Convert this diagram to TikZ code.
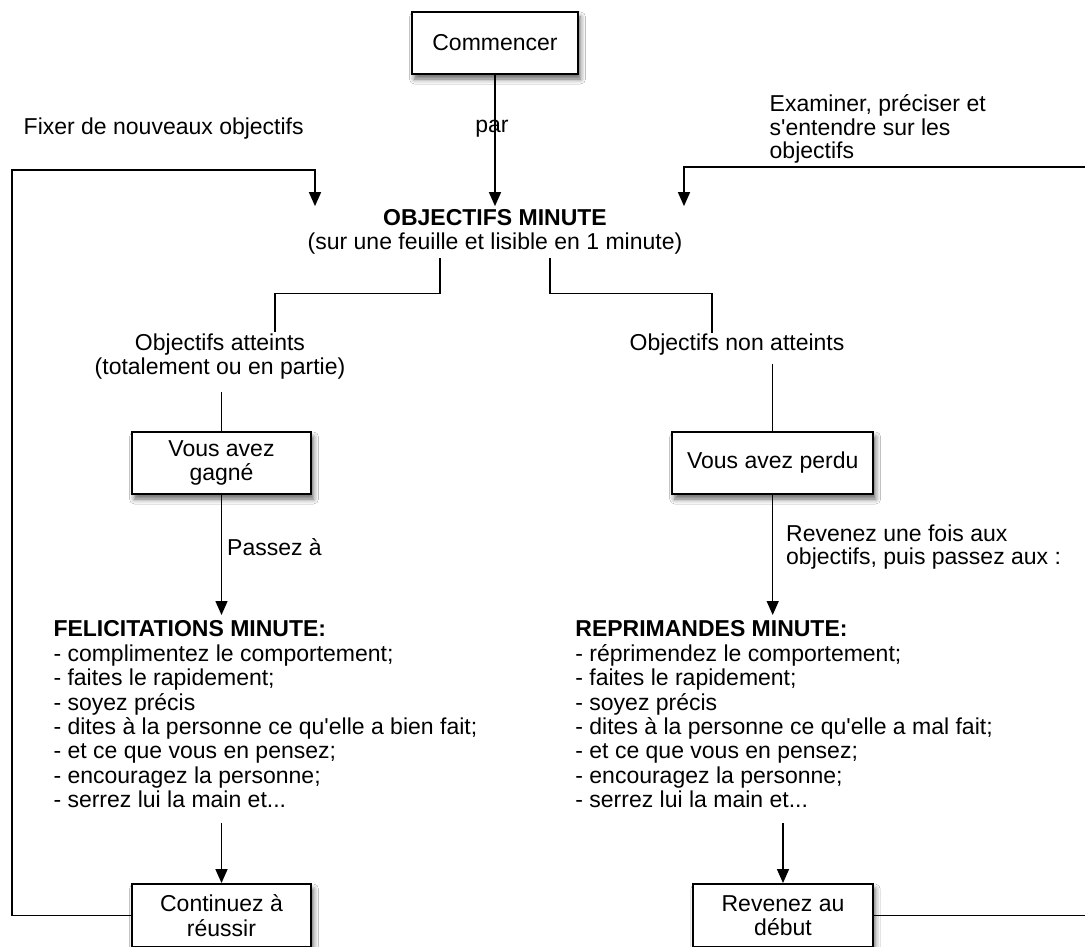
\documentclass[tikz,border=0pt]{standalone}
\usepackage{fontspec}
\setmainfont{Liberation Sans}
\newfontfamily\arialfam{Liberation Sans}
\usetikzlibrary{arrows.meta,shadows.blur}
\begin{document}
\begin{tikzpicture}[x=1pt,y=-1pt,
  every node/.style={font=\arialfam\fontsize{23}{24.3}\selectfont, inner sep=0pt},
  rbox/.style={draw, line width=1.9pt, fill=white, minimum height=62pt, align=center,
    blur shadow={shadow xshift=2.5pt, shadow yshift=-5pt, shadow blur radius=5pt, shadow opacity=60}},
  conn/.style={line width=1.5pt},
  arr/.style={conn, -{Triangle[width=12pt,length=14pt]}},
  listtxt/.style={anchor=north west, align=left, font=\arialfam\fontsize{23}{24.43}\selectfont}
]
\fill[white] (0,0) rectangle (1085,947);
\useasboundingbox (0,0) rectangle (1085,947);

% top
\node[rbox, minimum width=166pt] (start) at (495,43) {Commencer};
\node[align=center, font=\arialfam\fontsize{23}{24.5}\selectfont, inner sep=3pt] (obj) at (495,232)
  {\textbf{OBJECTIFS MINUTE}\\(sur une feuille et lisible en 1 minute)};
\node[anchor=base] (par) at (492,133) {par};
\draw[arr] (start.south) -- (obj.north);

\node[anchor=base west] (fixer) at (23.5,135) {Fixer de nouveaux objectifs};
\node[anchor=west, align=left, font=\arialfam\fontsize{23}{23.5}\selectfont] (exam) at (769.5,129.4)
  {Examiner, préciser et\\s'entendre sur les\\objectifs};

% branches
\node[align=center, inner sep=2pt] (att) at (220,356.9) {Objectifs atteints\\(totalement ou en partie)};
\node[anchor=base] (nonatt) at (737,350) {Objectifs non atteints};
\coordinate (bl) at (440,0);
\coordinate (br) at (550,0);
\coordinate (jl) at (275,293.3);
\coordinate (jr) at (712,293.3);
\draw[conn] (obj.south -| bl) |- (jl) -- (jl |- att.north);
\draw[conn] (obj.south -| br) |- (jr) -- (jr |- nonatt.north);

\node[rbox, minimum width=179pt] (gagne) at (221.5,463) {Vous avez\\gagné};
\node[rbox, minimum width=201pt] (perdu) at (772.7,463) {Vous avez perdu};
\draw[conn, shorten <=10pt] (att.south -| gagne.north) -- (gagne.north);
\draw[conn, shorten <=9pt] (nonatt.south -| perdu.north) -- (perdu.north);

% lists
\node[listtxt] (felic) at (53.3,620.5) {\textbf{FELICITATIONS MINUTE:}\\- complimentez le comportement;\\- faites le rapidement;\\- soyez précis\\- dites à la personne ce qu'elle a bien fait;\\- et ce que vous en pensez;\\- encouragez la personne;\\- serrez lui la main et...};
\node[listtxt] (repr) at (575.2,620.5) {\textbf{REPRIMANDES MINUTE:}\\- réprimendez le comportement;\\- faites le rapidement;\\- soyez précis\\- dites à la personne ce qu'elle a mal fait;\\- et ce que vous en pensez;\\- encouragez la personne;\\- serrez lui la main et...};

\draw[arr, shorten >=5.5pt] (gagne.south) -- (felic.north -| gagne.south);
\node[anchor=base west] (passez) at (227,555) {Passez à};
\draw[arr, shorten >=5.5pt] (perdu.south) -- (repr.north -| perdu.south);
\node[anchor=west, align=left, font=\arialfam\fontsize{23}{23.3}\selectfont] (revl) at (786,547.3)
  {Revenez une fois aux\\objectifs, puis passez aux :};

% bottom
\node[rbox, minimum width=179pt, minimum height=63pt] (cont) at (221.5,915.5) {Continuez à\\réussir};
\node[rbox, minimum width=179.4pt, minimum height=63pt] (rev) at (783,915.5) {Revenez au\\début};
\draw[arr] (felic.south -| cont.north) ++(0,15) -- (cont.north);
\draw[arr] (repr.south -| rev.north) ++(0,15) -- (rev.north);

% loops
\coordinate (lc) at (12,170);
\coordinate (lt) at (315,0);
\draw[arr] (cont.west) -| (lc) -| (obj.north -| lt);
\coordinate (rc) at (1090,167);
\coordinate (rt) at (684,0);
\draw[arr] (rc) -| (obj.north -| rt);
\coordinate (re) at (1090,0);
\draw[conn] (rev.east) -- (rev.east -| re);
\end{tikzpicture}
\end{document}
